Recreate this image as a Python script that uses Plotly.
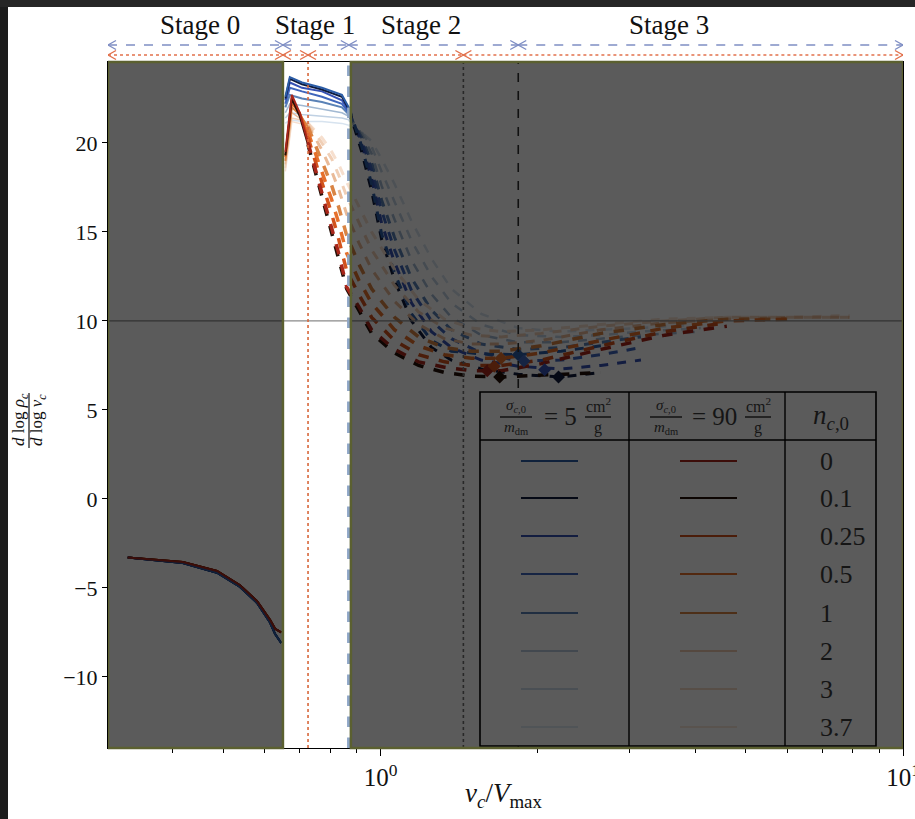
import numpy as np
import plotly.graph_objects as go

# ---------------- data ----------------
N_LABELS = ["0", "0.1", "0.25", "0.5", "1", "2", "3", "3.7"]
BLUE_COLORS = ["#2b5ca6", "#0e1a3c", "#3551b4", "#3f66bc", "#5a82b6", "#a2b9d2", "#c0d1e3", "#d7e3ef"]
ORANGE_COLORS = ["#a8261a", "#241008", "#d2521c", "#e6702c", "#d98444", "#e9ba98", "#f0cfb6", "#f6dfce"]
LINE_WIDTHS = [2.0, 2.0, 2.0, 2.0, 2.0, 1.5, 1.5, 1.5]
DASH_WIDTHS = [3.0, 3.0, 3.0, 3.0, 3.0, 2.5, 2.5, 2.5]

STAGE0_X = [0.328, 0.418, 0.486, 0.538, 0.580, 0.614, 0.628, 0.645]
STAGE0_Y_BLUE = [-3.3, -3.6, -4.15, -4.95, -5.85, -6.95, -7.6, -8.1]
STAGE0_Y_ORANGE = [-3.3, -3.55, -4.05, -4.85, -5.75, -6.8, -7.3, -7.5]

BLUE_S1_X = [0.657, 0.670, 0.707, 0.772, 0.843, 0.869]
BLUE_S1_Y = [
    [22.6, 23.7, 23.4, 23.1, 22.7, 22.0],
    [22.5, 23.6, 23.3, 23.0, 22.6, 21.9],
    [22.4, 23.4, 23.1, 22.9, 22.4, 21.8],
    [22.2, 23.1, 22.9, 22.6, 22.2, 21.7],
    [22.0, 22.7, 22.5, 22.3, 22.0, 21.6],
    [21.7, 22.2, 22.1, 21.9, 21.7, 21.5],
    [21.4, 21.7, 21.6, 21.5, 21.4, 21.3],
    [21.1, 21.3, 21.2, 21.2, 21.1, 21.0],
]
BLUE_TAIL_X = [0.869, 0.92, 0.961, 1.004, 1.063, 1.146, 1.251, 1.366, 1.558, 1.834, 2.215, 2.64, 3.15, 4.1]
BLUE_TAIL_Y = [
    [22.0, 19.8, 17.7, 14.9, 12.7, 10.4, 8.9, 8.3, 8.15, 8.1, 8.3, 8.6, None, None],
    [21.9, 19.5, 17.3, 14.6, 12.3, 10.0, 8.5, 7.8, 7.3, 7.0, 6.85, 7.1, None, None],
    [21.8, 19.9, 18.0, 15.5, 13.3, 11.0, 9.4, 8.5, 7.8, 7.45, 7.3, 7.5, 7.8, None],
    [21.7, 20.1, 18.5, 16.2, 14.0, 11.7, 10.0, 9.0, 8.2, 7.75, 7.8, 8.1, 8.5, None],
    [21.6, 20.3, 18.9, 16.8, 14.7, 12.4, 10.6, 9.5, 8.7, 8.4, 8.5, 8.8, 9.1, None],
    [21.5, 20.5, 19.4, 17.6, 15.7, 13.4, 11.5, 10.2, 9.2, 8.8, 8.8, 9.0, 9.2, 9.4],
    [21.3, 20.6, 19.8, 18.4, 16.7, 14.5, 12.5, 11.0, 9.8, 9.2, 9.1, 9.2, 9.4, 9.6],
    [21.0, 20.6, 20.1, 19.1, 17.7, 15.6, 13.5, 11.8, 10.4, 9.6, 9.4, 9.5, 9.6, 9.8],
]
BLUE_MIN_X = [1.834, 2.19, 2.06, 1.88, None, None, None, None]
BLUE_MIN_Y = [8.1, 6.85, 7.25, 7.75, None, None, None, None]

ORANGE_S1_X = [0.657, 0.676, 0.700, 0.726]
ORANGE_S1_Y = [
    [19.5, 22.7, 21.7, 20.0],
    [19.3, 22.5, 21.5, 19.9],
    [19.3, 22.4, 21.7, 20.3],
    [19.2, 22.2, 21.7, 20.6],
    [19.0, 22.0, 21.6, 20.9],
    [18.8, 21.7, 21.4, 21.0],
    [18.6, 21.4, 21.3, 21.1],
    [18.4, 21.2, 21.1, 21.1],
]
ORANGE_TAIL_X = [0.726, 0.772, 0.806, 0.831, 0.861, 0.908, 0.961, 1.063, 1.182, 1.325,
                 1.492, 1.702, 2.03, 2.64, 3.5, 4.6, 6.0, 7.9]
ORANGE_TAIL_Y = [
    [20.0, 17.2, 15.3, 13.8, 11.9, 10.8, 9.5, 8.4, 7.7, 7.4, 7.2, 7.2, 7.6, 8.4, 9.2, 9.7, None, None],
    [19.9, 17.0, 15.1, 13.6, 11.8, 10.6, 9.3, 8.2, 7.5, 7.1, 6.9, 6.85, 6.95, 7.1, None, None, None, None],
    [20.3, 17.8, 16.0, 14.6, 12.8, 11.5, 10.2, 8.9, 8.1, 7.7, 7.5, 7.5, 7.8, 8.6, 9.4, 9.9, None, None],
    [20.6, 18.4, 16.8, 15.5, 13.8, 12.3, 11.0, 9.5, 8.6, 8.1, 7.9, 7.9, 8.2, 8.9, 9.6, 10.0, 10.1, None],
    [20.9, 19.0, 17.6, 16.4, 14.8, 13.2, 11.8, 10.2, 9.1, 8.5, 8.3, 8.3, 8.6, 9.3, 9.8, 10.1, 10.1, None],
    [21.0, 19.6, 18.4, 17.4, 16.0, 14.4, 12.9, 11.1, 9.8, 9.0, 8.7, 8.7, 8.9, 9.5, 9.9, 10.1, 10.2, 10.2],
    [21.1, 20.0, 19.1, 18.2, 17.0, 15.5, 14.0, 12.0, 10.5, 9.6, 9.2, 9.1, 9.3, 9.7, 10.0, 10.2, 10.2, 10.2],
    [21.1, 20.3, 19.5, 18.8, 17.8, 16.4, 15.0, 12.9, 11.2, 10.1, 9.6, 9.4, 9.5, 9.8, 10.1, 10.2, 10.2, 10.3],
]
ORANGE_MIN_X = [1.60, 1.69, 1.65, 1.70, None, None, None, None]
ORANGE_MIN_Y = [7.2, 6.85, 7.45, 7.9, None, None, None, None]

# stage boundaries (v_c / V_max)
X_MIN, X_MAX = 0.3006, 10.0
BLUE_STAGES = [0.3006, 0.65, 0.869, 1.834, 10.0]
RED_STAGES = [0.3006, 0.65, 0.726, 1.44, 10.0]
DIM_RANGES = [(0.3006, 0.650), (0.877, 10.0)]
STAGE_NAMES = ["Stage 0", "Stage 1", "Stage 2", "Stage 3"]
STAGE_LABEL_X = [0.45, 0.748, 1.197, 3.56]
HLINE_Y = 10
Y_TICKS = [-10, -5, 0, 5, 10, 15, 20]
X_TICKS = [1, 10]
X_TICK_TEXT = ["10<sup>0</sup>", "10<sup>1</sup>"]
X_MINOR = [0.4, 0.5, 0.6, 0.7, 0.8, 0.9, 2, 3, 4, 5, 6, 7, 8, 9]

# ---------------- layout geometry ----------------
W, H = 915, 819
L, R, T, B = 108, 12, 62, 71
PW, PH = W - L - R, H - T - B
FONT = "Liberation Serif"
TXT = "#151515"


def fx(p):
    return (p - L) / PW


def fy(q):
    return (H - B - q) / PH


fig = go.Figure()

# ---------------- curves ----------------
for i in reversed(range(8)):
    for sx, sy, col in ((STAGE0_X, STAGE0_Y_BLUE, BLUE_COLORS[i]),
                        (STAGE0_X, STAGE0_Y_ORANGE, ORANGE_COLORS[i])):
        fig.add_trace(go.Scatter(x=sx, y=sy, mode="lines",
                                 line=dict(color=col, width=LINE_WIDTHS[i]),
                                 showlegend=False, hoverinfo="skip"))
for i in reversed(range(8)):
    fig.add_trace(go.Scatter(x=BLUE_S1_X, y=BLUE_S1_Y[i], mode="lines",
                             line=dict(color=BLUE_COLORS[i], width=LINE_WIDTHS[i]),
                             showlegend=False, hoverinfo="skip"))
    fig.add_trace(go.Scatter(x=BLUE_TAIL_X, y=BLUE_TAIL_Y[i], mode="lines",
                             line=dict(color=BLUE_COLORS[i], width=DASH_WIDTHS[i], dash="dash"),
                             connectgaps=False, showlegend=False, hoverinfo="skip"))
for i in reversed(range(8)):
    fig.add_trace(go.Scatter(x=ORANGE_S1_X, y=ORANGE_S1_Y[i], mode="lines",
                             line=dict(color=ORANGE_COLORS[i], width=LINE_WIDTHS[i]),
                             showlegend=False, hoverinfo="skip"))
    fig.add_trace(go.Scatter(x=ORANGE_TAIL_X, y=ORANGE_TAIL_Y[i], mode="lines",
                             line=dict(color=ORANGE_COLORS[i], width=DASH_WIDTHS[i] + 0.5, dash="dash"),
                             connectgaps=False, showlegend=False, hoverinfo="skip"))
for mx, my, cols in ((ORANGE_MIN_X, ORANGE_MIN_Y, ORANGE_COLORS), (BLUE_MIN_X, BLUE_MIN_Y, BLUE_COLORS)):
    for i in range(8):
        if mx[i] is None:
            continue
        fig.add_trace(go.Scatter(x=[mx[i]], y=[my[i]], mode="markers",
                                 marker=dict(symbol="diamond", size=10, color=cols[i]),
                                 showlegend=False, hoverinfo="skip"))

shapes = []
annotations = []

# reference lines
shapes.append(dict(type="line", xref="x", yref="y", x0=X_MIN, x1=X_MAX, y0=HLINE_Y, y1=HLINE_Y,
                   line=dict(color="#8a8a8a", width=1.2), layer="above"))
shapes.append(dict(type="line", xref="x", yref="paper", x0=RED_STAGES[2], x1=RED_STAGES[2], y0=0, y1=1,
                   line=dict(color="#d8683c", width=1.6, dash="dot"), layer="above"))
shapes.append(dict(type="line", xref="x", yref="paper", x0=RED_STAGES[3], x1=RED_STAGES[3], y0=0, y1=1,
                   line=dict(color="#707070", width=1.6, dash="dot"), layer="above"))
shapes.append(dict(type="line", xref="x", yref="paper", x0=BLUE_STAGES[3], x1=BLUE_STAGES[3], y0=0, y1=1,
                   line=dict(color="#303030", width=1.6, dash="dash"), layer="above"))
shapes.append(dict(type="line", xref="x", yref="paper", x0=BLUE_STAGES[2], x1=BLUE_STAGES[2], y0=0, y1=1,
                   line=dict(color="#8ea6c6", width=3.5, dash="dash"), layer="above"))

# legend table
tx0, tx1, ty0, ty1 = 480, 876, 392, 746
shapes.append(dict(type="rect", xref="paper", yref="paper", x0=fx(tx0), x1=fx(tx1), y0=fy(ty1), y1=fy(ty0),
                   fillcolor="white", line=dict(color="black", width=1.6), layer="above"))
for cx in (629, 785):
    shapes.append(dict(type="line", xref="paper", yref="paper", x0=fx(cx), x1=fx(cx), y0=fy(ty1), y1=fy(ty0),
                       line=dict(color="black", width=1.4), layer="above"))
shapes.append(dict(type="line", xref="paper", yref="paper", x0=fx(tx0), x1=fx(tx1), y0=fy(440), y1=fy(440),
                   line=dict(color="black", width=1.4), layer="above"))
row_py = [461, 498, 536, 574, 613, 651, 689, 727]
for i in range(8):
    for (a, b), col in (((521, 578), BLUE_COLORS[i]), ((680, 737), ORANGE_COLORS[i])):
        shapes.append(dict(type="line", xref="paper", yref="paper", x0=fx(a), x1=fx(b),
                           y0=fy(row_py[i]), y1=fy(row_py[i]),
                           line=dict(color=col, width=LINE_WIDTHS[i]), layer="above"))
    annotations.append(dict(text=N_LABELS[i], xref="paper", yref="paper", x=fx(818), y=fy(row_py[i]),
                            xanchor="left", yanchor="middle", showarrow=False,
                            font=dict(family=FONT, size=26, color=TXT)))
# header fractions
for cnum, ceq, ccm, eqtxt in ((516, 560, 598, "= 5"), (666, 714, 758, "= 90")):
    annotations.append(dict(text="<i>σ</i><sub><i>c</i>,0</sub>", xref="paper", yref="paper",
                            x=fx(cnum), y=fy(406), xanchor="center", yanchor="middle", showarrow=False,
                            font=dict(family=FONT, size=15, color=TXT)))
    annotations.append(dict(text="<i>m</i><sub>dm</sub>", xref="paper", yref="paper",
                            x=fx(cnum), y=fy(428), xanchor="center", yanchor="middle", showarrow=False,
                            font=dict(family=FONT, size=15, color=TXT)))
    annotations.append(dict(text=eqtxt, xref="paper", yref="paper",
                            x=fx(ceq), y=fy(417), xanchor="center", yanchor="middle", showarrow=False,
                            font=dict(family=FONT, size=25, color=TXT)))
    annotations.append(dict(text="cm<sup>2</sup>", xref="paper", yref="paper",
                            x=fx(ccm), y=fy(405), xanchor="center", yanchor="middle", showarrow=False,
                            font=dict(family=FONT, size=16, color=TXT)))
    annotations.append(dict(text="g", xref="paper", yref="paper",
                            x=fx(ccm), y=fy(428), xanchor="center", yanchor="middle", showarrow=False,
                            font=dict(family=FONT, size=16, color=TXT)))
    for c, hw in ((cnum, 16), (ccm, 13)):
        shapes.append(dict(type="line", xref="paper", yref="paper", x0=fx(c - hw), x1=fx(c + hw),
                           y0=fy(417), y1=fy(417), line=dict(color="black", width=1.2), layer="above"))
annotations.append(dict(text="<i>n</i><sub><i>c</i>,0</sub>", xref="paper", yref="paper",
                        x=fx(831), y=fy(417), xanchor="center", yanchor="middle", showarrow=False,
                        font=dict(family=FONT, size=27, color=TXT)))

# dimming overlays (stages 0, 2, 3)
for a, b in DIM_RANGES:
    shapes.append(dict(type="rect", xref="x", yref="paper", x0=a, x1=b, y0=0, y1=1,
                       fillcolor="rgba(0,0,0,0.645)", line=dict(color="#5b6030", width=2.5), layer="above"))

# stage arrows above the axes
Y_BLUE_ARROW, Y_RED_ARROW = fy(45), fy(55)
for stages, yv, col, dash in ((BLUE_STAGES, Y_BLUE_ARROW, "#7f8ec4", "dash"),
                              (RED_STAGES, Y_RED_ARROW, "#e2714c", "dot")):
    for k in range(4):
        a, b = stages[k], stages[k + 1]
        shapes.append(dict(type="line", xref="x", yref="paper", x0=a, x1=b, y0=yv, y1=yv,
                           line=dict(color=col, width=1.5, dash=dash), layer="above"))
        for xv, path in ((b, "M-8,-4.5 L0,0 L-8,4.5"), (a, "M8,-4.5 L0,0 L8,4.5")):
            shapes.append(dict(type="path", xref="x", yref="paper", xsizemode="pixel", ysizemode="pixel",
                               xanchor=xv, yanchor=yv, path=path, fillcolor="rgba(0,0,0,0)",
                               line=dict(color=col, width=1.4), layer="above"))
for name, xv in zip(STAGE_NAMES, STAGE_LABEL_X):
    annotations.append(dict(text=name, x=float(np.log10(xv)), y=fy(25), xref="x", yref="paper",
                            xanchor="center", yanchor="middle", showarrow=False,
                            font=dict(family=FONT, size=27, color="#111111")))

# axis titles
annotations.append(dict(text="<i>d</i> log <i>ρ</i><sub><i>c</i></sub>", xref="paper", yref="paper",
                        x=fx(20), y=fy(420), textangle=-90, xanchor="center", yanchor="middle",
                        showarrow=False, font=dict(family=FONT, size=17, color="#111111")))
annotations.append(dict(text="<i>d</i> log <i>v</i><sub><i>c</i></sub>", xref="paper", yref="paper",
                        x=fx(38), y=fy(420), textangle=-90, xanchor="center", yanchor="middle",
                        showarrow=False, font=dict(family=FONT, size=17, color="#111111")))
shapes.append(dict(type="line", xref="paper", yref="paper", x0=fx(29), x1=fx(29), y0=fy(448), y1=fy(393),
                   line=dict(color="#111111", width=1.2)))
annotations.append(dict(text="<i>v</i><sub><i>c</i></sub>/<i>V</i><sub>max</sub>", xref="paper", yref="paper",
                        x=fx(503), y=fy(795), xanchor="center", yanchor="middle", showarrow=False,
                        font=dict(family=FONT, size=27, color="#111111")))

# screen frame
shapes.append(dict(type="rect", xref="paper", yref="paper", x0=fx(-5), x1=fx(8), y0=fy(830), y1=fy(-5),
                   fillcolor="#1c1c1c", line=dict(width=0), layer="above"))
shapes.append(dict(type="rect", xref="paper", yref="paper", x0=fx(-5), x1=fx(925), y0=fy(7), y1=fy(-5),
                   fillcolor="#262626", line=dict(width=0), layer="above"))

fig.update_layout(
    width=W, height=H, margin=dict(l=L, r=R, t=T, b=B, autoexpand=False),
    paper_bgcolor="white", plot_bgcolor="white",
    shapes=shapes, annotations=annotations, showlegend=False,
    font=dict(family=FONT, color="#111111"),
    xaxis=dict(type="log", range=[np.log10(X_MIN), np.log10(X_MAX)], tickvals=X_TICKS, ticktext=X_TICK_TEXT,
               ticks="outside", ticklen=7, tickwidth=1, tickcolor="black", showgrid=False, zeroline=False,
               showline=True, mirror=True, linecolor="black", linewidth=1, ticklabeloverflow="allow",
               automargin=False,
               tickfont=dict(family=FONT, size=25, color="#111111"),
               minor=dict(tickvals=X_MINOR, ticks="outside", ticklen=4, tickcolor="black", showgrid=False)),
    yaxis=dict(range=[-14, 24.55], tickvals=Y_TICKS, ticks="outside", ticklen=5, tickwidth=1, automargin=False,
               tickcolor="black", showgrid=False, zeroline=False, showline=True, mirror=True,
               linecolor="black", linewidth=1, tickfont=dict(family=FONT, size=22, color="#111111")),
)

fig.write_html("out.html")
